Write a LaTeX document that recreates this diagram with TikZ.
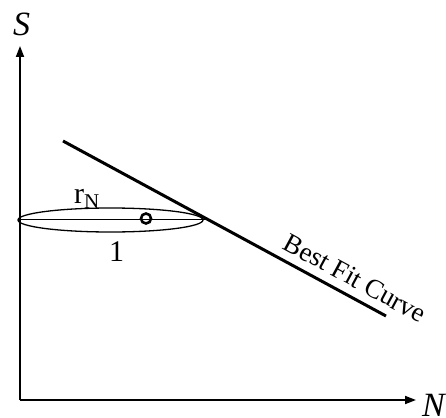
\documentclass[tikz,border=0pt]{standalone}
\usepackage{fontspec}
\setmainfont{Liberation Serif}
\usetikzlibrary{arrows.meta}
\tikzset{
  axis/.style={line width=1.8pt, -{Triangle[length=11pt,width=8pt]}},
  fitline/.style={line width=3pt},
  thinline/.style={line width=1.3pt},
  lbl/.style={inner sep=0pt, anchor=base west}
}
\begin{document}
\begin{tikzpicture}[x=1pt,y=-1pt]
\useasboundingbox (0,0) rectangle (446,417);
\coordinate (O) at (20,400);
\coordinate (Ytip) at (20,46);
\coordinate (Xtip) at (416,400);
\draw[axis] (O) -- (Ytip);
\draw[axis] (O) -- (Xtip);
\node[lbl] (S) at (13,36) {\fontsize{34}{34}\selectfont\textit{S}};
\node[lbl] (N) at (422,416) {\fontsize{34}{34}\selectfont\textit{N}};
% ellipse and diameter
\draw[thinline] (110.5,220) ellipse [x radius=92.5, y radius=12];
\coordinate (dl) at (18,219.5);
\coordinate (dr) at (205,219.5);
\draw[thinline] (dl) -- (dr);
\node[draw, circle, line width=2.6pt, minimum size=10pt, inner sep=0pt] (c) at (146,218.5) {};
% best fit line
\coordinate (fa) at (63,141);
\coordinate (fb) at (386,316);
\draw[fitline] (fa) -- (fb);
\node[inner sep=0pt, anchor=base, rotate=-28.4] (bfc) at (351,286) {\fontsize{27}{27}\selectfont Best Fit Curve};
% labels
\node[lbl] (rN) at (74,203) {\fontsize{30}{30}\selectfont r\textsubscript{N}};
\node[lbl] (one) at (109,261) {\fontsize{30}{30}\selectfont 1};
\end{tikzpicture}
\end{document}
